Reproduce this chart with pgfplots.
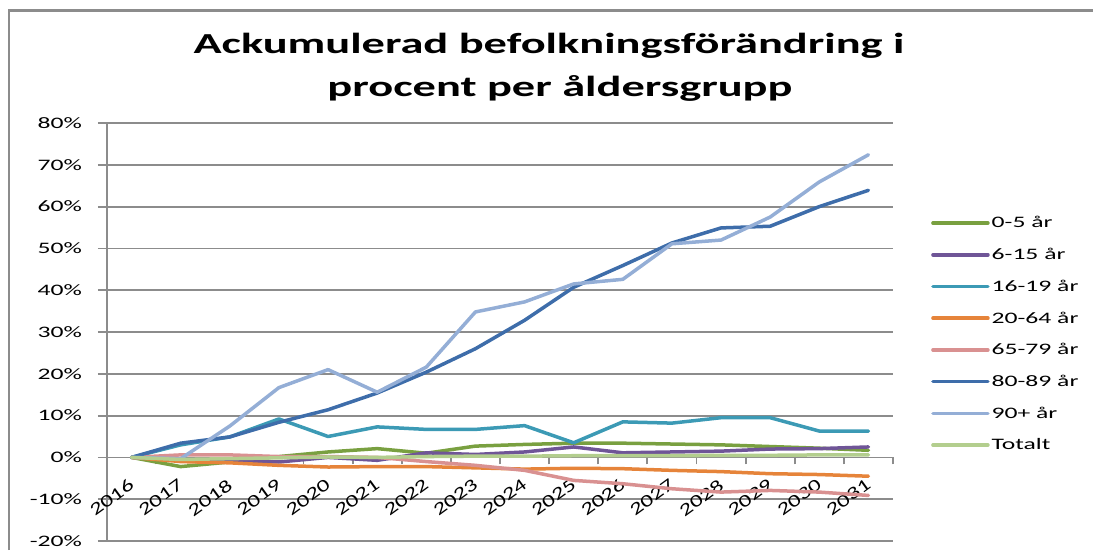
\documentclass[border=0pt]{standalone}
\usepackage{pgfplots}
\pgfplotsset{compat=1.18}
\usepackage{fontspec}
\setmainfont{Carlito}[FakeStretch=1.6]
\newfontfamily\xlabfont{Carlito}[FakeStretch=1.4]
\definecolor{cA}{HTML}{79A040}
\definecolor{cB}{HTML}{6F5597}
\definecolor{cC}{HTML}{3C9AB5}
\definecolor{cD}{HTML}{E6843A}
\definecolor{cE}{HTML}{D99191}
\definecolor{cF}{HTML}{3E6DAA}
\definecolor{cG}{HTML}{94AED6}
\definecolor{cH}{HTML}{B3CE8E}
\definecolor{gridc}{HTML}{8C8C8C}
\begin{document}
\begin{tikzpicture}[x=1pt,y=1pt]
\useasboundingbox (0,0) rectangle (1093,550);
\draw[gridc, line width=2.5pt] (9,0) -- (9,539.5) -- (1093,539.5);
\node[anchor=base, font=\fontsize{29}{30}\selectfont\bfseries] at (549,496.5) {Ackumulerad befolkningsförändring i};
\node[anchor=base, font=\fontsize{29}{30}\selectfont\bfseries] at (560,453) {procent per åldersgrupp};
\begin{axis}[
  at={(107pt,9pt)}, anchor=south west, scale only axis,
  width=786pt, height=418pt,
  xmin=-0.5, xmax=15.5, ymin=-20, ymax=80,
  axis x line=middle, axis y line=left,
  axis line style={-, draw=gridc, line width=1.8pt},
  hide obscured x ticks=false, hide obscured y ticks=false,
  ytick={-20,-10,...,80},
  yticklabels={-20\%,-10\%,0\%,10\%,20\%,30\%,40\%,50\%,60\%,70\%,80\%},
  xtick={0,...,15},
  xticklabels={2016,2017,2018,2019,2020,2021,2022,2023,2024,2025,2026,2027,2028,2029,2030,2031},
  minor xtick={-0.5,0.5,...,15.5},
  ymajorgrids, major grid style={gridc, line width=1.8pt},
  tick align=center,
  major tick length=9pt, minor tick length=7pt,
  major x tick style={draw=none},
  minor x tick style={draw=gridc, line width=1.8pt, yshift=-3.5pt},
  major y tick style={draw=gridc, line width=1.8pt, xshift=-4.5pt},
  tick label style={font=\fontsize{16}{18}\selectfont, text=black},
  yticklabel style={xshift=-17pt},
  xticklabel style={font=\xlabfont\fontsize{17.5}{19}\selectfont, rotate=36, anchor=north east, xshift=-11pt, yshift=-10pt, inner sep=1pt},
  every axis plot/.append style={line width=3.5pt, line join=round, line cap=round},
  legend style={draw=none, fill=none, at={(1,0.5)}, anchor=west, xshift=38pt, yshift=-2pt,
    font=\fontsize{16}{18}\selectfont, row sep=14.9pt, inner sep=0pt,
    legend cell align=left},
  legend image code/.code={\draw[#1, line cap=round] (0pt,0pt) -- (55pt,0pt);},
  clip=false,
]
\addplot[cA] coordinates {(0,0) (1,-2.2) (2,-1.1) (3,0.2) (4,1.3) (5,2.1) (6,1.0) (7,2.7) (8,3.1) (9,3.4) (10,3.4) (11,3.2) (12,3.0) (13,2.6) (14,2.2) (15,1.7)};
\addlegendentry{0-5 år}
\addplot[cB] coordinates {(0,0) (1,-0.6) (2,-0.8) (3,-1.1) (4,0.0) (5,-0.7) (6,1.1) (7,0.7) (8,1.3) (9,2.5) (10,1.1) (11,1.3) (12,1.5) (13,2.0) (14,2.1) (15,2.5)};
\addlegendentry{6-15 år}
\addplot[cC] coordinates {(0,0) (1,3.0) (2,4.9) (3,9.2) (4,5.0) (5,7.3) (6,6.7) (7,6.7) (8,7.6) (9,3.5) (10,8.5) (11,8.2) (12,9.5) (13,9.5) (14,6.3) (15,6.3)};
\addlegendentry{16-19 år}
\addplot[cD] coordinates {(0,0) (1,-1.0) (2,-1.3) (3,-1.9) (4,-2.3) (5,-2.2) (6,-2.2) (7,-2.5) (8,-2.8) (9,-2.6) (10,-2.7) (11,-3.1) (12,-3.4) (13,-3.9) (14,-4.1) (15,-4.5)};
\addlegendentry{20-64 år}
\addplot[cE] coordinates {(0,0) (1,0.6) (2,0.6) (3,0.2) (4,0.2) (5,0.0) (6,-1.0) (7,-1.9) (8,-3.1) (9,-5.5) (10,-6.3) (11,-7.5) (12,-8.3) (13,-7.9) (14,-8.3) (15,-9.1)};
\addlegendentry{65-79 år}
\addplot[cF] coordinates {(0,0) (1,3.4) (2,4.9) (3,8.4) (4,11.4) (5,15.4) (6,20.4) (7,26.0) (8,32.8) (9,40.7) (10,45.9) (11,51.3) (12,54.9) (13,55.3) (14,60.0) (15,63.9)};
\addlegendentry{80-89 år}
\addplot[cG] coordinates {(0,0) (1,-0.3) (2,7.5) (3,16.7) (4,21.0) (5,15.6) (6,21.6) (7,34.8) (8,37.2) (9,41.5) (10,42.6) (11,51.1) (12,52.0) (13,57.5) (14,65.9) (15,72.4)};
\addlegendentry{90+ år}
\addplot[cH] coordinates {(0,0) (1,-0.5) (2,-0.3) (3,-0.1) (4,0.1) (5,0.0) (6,0.2) (7,0.3) (8,0.3) (9,0.4) (10,0.4) (11,0.4) (12,0.5) (13,0.5) (14,0.6) (15,0.6)};
\addlegendentry{Totalt}
\end{axis}
\end{tikzpicture}
\end{document}
